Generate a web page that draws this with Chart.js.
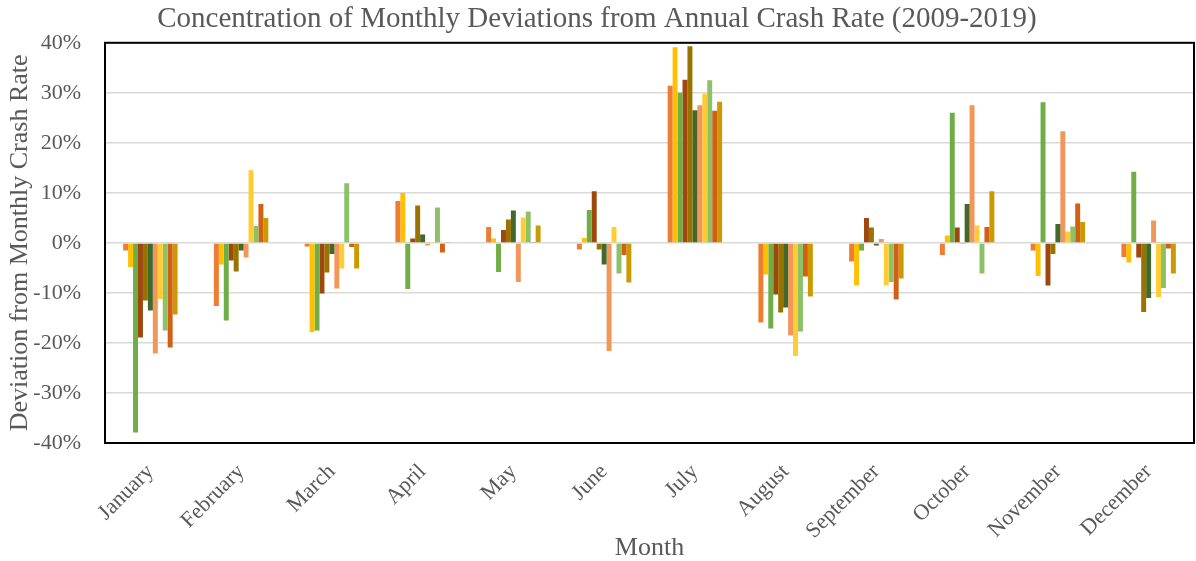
<!DOCTYPE html>
<html lang="en">
<head>
    <meta charset="UTF-8">
    <title>Monthly Deviations from Annual Crash Rate</title>
    <script src="https://cdn.jsdelivr.net/npm/chart.js"></script>
    <style>
        html, body {
            margin: 0;
            padding: 0;
            background: #ffffff;
        }
        #wrap {
            width: 1196px;
            height: 561px;
        }
    </style>
</head>
<body>

<div id="wrap">
    <canvas id="grafico"></canvas>
</div>

<script>
// months on the x axis
const mesi = ['January', 'February', 'March', 'April', 'May', 'June',
              'July', 'August', 'September', 'October', 'November', 'December'];

// deviation (%) for each year, one value per month
const y2009 = [-1.5, -12.6, -0.7,  8.4,  3.2, -1.3, 31.4, -15.9, -3.7, -2.4, -1.5, -2.8];
const y2010 = [-4.8,  -4.3, -17.8, 10.0, 0.9,  1.0, 39.1,  -6.3, -8.5,  1.5, -6.6, -3.9];
const y2011 = [-37.9, -15.5, -17.5, -9.2, -5.8, 6.6, 30.0, -17.1, -1.5, 26.0, 28.1, 14.2];
const y2012 = [-18.9, -3.5, -10.1,  0.9,  2.6, 10.3, 32.6, -10.3,  5.0,  3.1, -8.5, -2.9];
const y2013 = [-11.5, -5.7,  -5.9,  7.5,  4.7, -1.3, 39.3, -13.9,  3.1, -0.2, -2.2, -13.8];
const y2014 = [-13.5, -1.5,  -2.2,  1.7,  6.5, -4.3, 26.5, -12.9, -0.5,  7.8,  3.8, -11.0];
const y2015 = [-22.1, -2.9,  -9.1, -0.5, -7.8, -21.6, 27.5, -18.5, 0.8, 27.5, 22.3,  4.5];
const y2016 = [-11.2, 14.5,  -5.1,  0.1,  5.1,  3.2, 29.8, -22.6, -8.5,  3.5,  2.3, -10.8];
const y2017 = [-17.5,  3.4,  11.9,  7.1,  6.3, -6.1, 32.5, -17.7, -7.8, -6.1,  3.3, -9.0];
const y2018 = [-20.9,  7.8,  -0.8, -1.9,  0.2, -2.4, 26.4,  -6.7, -11.3, 3.2,  7.9, -1.1];
const y2019 = [-14.3,  5.0,  -5.1,  0.2,  3.5, -7.9, 28.2, -10.7, -7.1, 10.3,  4.2, -6.1];

const anni = ['2009', '2010', '2011', '2012', '2013', '2014', '2015', '2016', '2017', '2018', '2019'];
const serie = [y2009, y2010, y2011, y2012, y2013, y2014, y2015, y2016, y2017, y2018, y2019];
const colori = ['#ED7D31', '#FFC000', '#70AD47', '#9E480E', '#997300', '#43682B',
                '#F1975A', '#FFCD33', '#8CC168', '#D26012', '#CC9A00'];

const grigio = '#595959';
const serif = '"Liberation Serif", "Times New Roman", serif';

// bordo nero attorno all'area del grafico
const bordo = {
    id: 'bordo',
    afterDraw(chart) {
        const a = chart.chartArea;
        const c = chart.ctx;
        c.save();
        c.strokeStyle = '#000000';
        c.lineWidth = 2;
        c.strokeRect(a.left, a.top, a.right - a.left, a.bottom - a.top);
        c.restore();
    }
};

let ctx = document.getElementById('grafico').getContext('2d');
let chart = new Chart(ctx, {
    type: 'bar',
    data: {
        labels: mesi,
        datasets: serie.map((d, i) => ({
            label: anni[i],
            data: d,
            backgroundColor: colori[i],
            borderWidth: 0,
            categoryPercentage: 0.6,
            barPercentage: 1.0
        }))
    },
    options: {
        responsive: true,
        maintainAspectRatio: false,
        animation: false,
        layout: { padding: { left: 0, right: 2, top: 0, bottom: 0 } },
        plugins: {
            legend: { display: false },
            tooltip: { enabled: false },
            title: {
                display: true,
                text: 'Concentration of Monthly Deviations from Annual Crash Rate (2009-2019)',
                color: grigio,
                font: { family: serif, size: 29, weight: 'normal' },
                padding: { top: 2, bottom: 6 }
            }
        },
        scales: {
            x: {
                grid: { display: false, drawTicks: false },
                border: { display: false },
                afterFit(scale) { scale.height = 118; },
                ticks: {
                    color: grigio,
                    font: { family: serif, size: 22 },
                    minRotation: 45,
                    maxRotation: 45,
                    padding: 16
                },
                title: {
                    display: true,
                    text: 'Month',
                    color: grigio,
                    font: { family: serif, size: 26, lineHeight: 1.0 },
                    padding: { top: 0, bottom: 0 }
                }
            },
            y: {
                min: -40,
                max: 40,
                grid: { color: '#d9d9d9', lineWidth: 1.5, drawTicks: false },
                border: { display: false },
                afterFit(scale) { scale.width = 105; },
                ticks: {
                    stepSize: 10,
                    color: grigio,
                    font: { family: serif, size: 22 },
                    padding: 24,
                    callback: v => v + '%'
                },
                title: {
                    display: true,
                    text: 'Deviation from Monthly Crash Rate',
                    color: grigio,
                    font: { family: serif, size: 26 },
                    padding: { top: 5, bottom: 0 }
                }
            }
        }
    },
    plugins: [bordo]
});
</script>

</body>
</html>
